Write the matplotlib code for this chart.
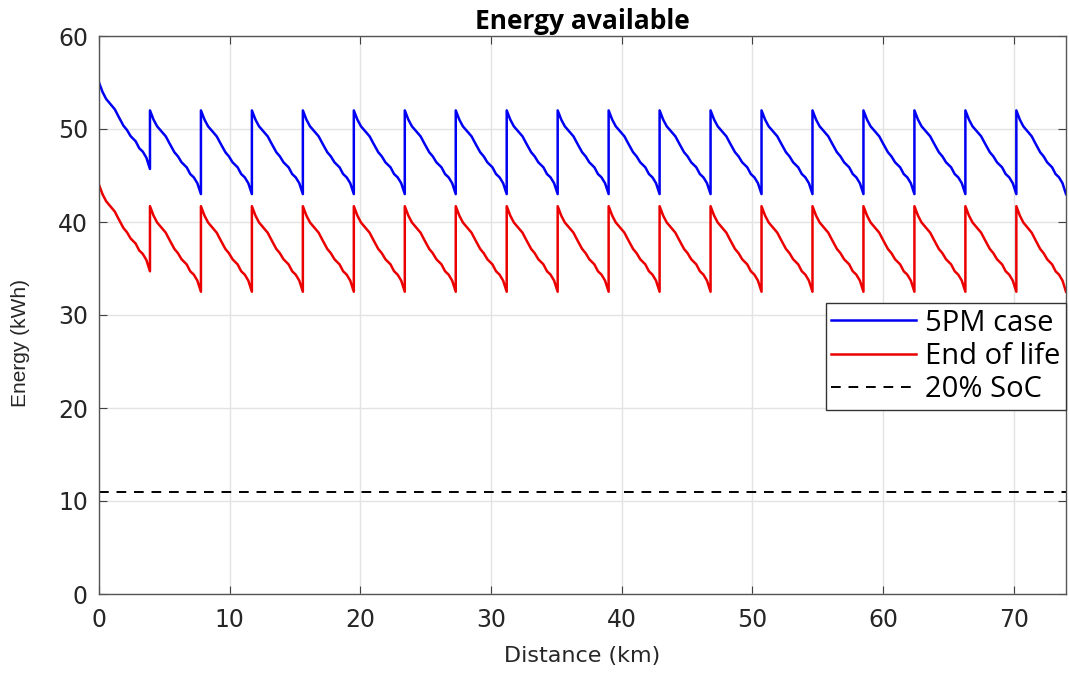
import numpy as np
import matplotlib.pyplot as plt

# jump (recharge) positions along the route, km
jump_km = [3.9, 7.8, 11.7, 15.6, 19.5, 23.4, 27.3, 31.2, 35.1, 39.0,
           42.9, 46.8, 50.7, 54.6, 58.5, 62.4, 66.3, 70.2]
end_km = 74.0

# energy at segment start / end (kWh)
blue_start = [55.0] + [52.0] * 18
blue_end = [45.7] + [43.0] * 18
red_start = [44.0] + [41.7] * 18
red_end = [34.7] + [32.5] * 18

# shape of one discharge segment
# (fraction of segment length, fraction of energy drop)
seg_x = [0.0, 0.07, 0.14, 0.24, 0.31, 0.38, 0.48, 0.55, 0.62, 0.72, 0.79, 0.86, 0.93, 1.0]
seg_y = [0.0, 0.11, 0.19, 0.26, 0.31, 0.39, 0.50, 0.55, 0.62, 0.68, 0.76, 0.80, 0.87, 1.0]

soc20 = 11.0

def build(starts, ends):
    bounds = [0.0] + jump_km + [end_km]
    xs, ys = [], []
    for i in range(len(starts)):
        a, b = bounds[i], bounds[i + 1]
        for fx, fy in zip(seg_x, seg_y):
            xs.append(a + fx * (b - a))
            ys.append(starts[i] - fy * (starts[i] - ends[i]))
    return np.array(xs), np.array(ys)

bx, by = build(blue_start, blue_end)
rx, ry = build(red_start, red_end)

fig = plt.figure(figsize=(10.69, 6.73), dpi=100)
ax = fig.add_axes([99 / 1069, 1 - 594 / 673, 967 / 1069, 558 / 673])

ax.plot(bx, by, color=(0, 0, 0.95), lw=1.8, label='5PM case')
ax.plot(rx, ry, color=(0.92, 0, 0), lw=1.8, label='End of life')
ax.axhline(soc20, color='black', lw=1.4, ls=(0, (5, 4)), label='20% SoC')

ax.set_xlim(0, 74)
ax.set_ylim(0, 60)
ax.set_xticks(np.arange(0, 71, 10))
ax.set_yticks(np.arange(0, 61, 10))
ax.grid(True, color='#e3e3e3', lw=1.0)
ax.set_axisbelow(True)
ax.tick_params(direction='in', top=True, right=True, length=6,
               color='#404040', labelsize=17, labelcolor='#262626')
ax.tick_params(axis='x', pad=10)
ax.tick_params(axis='y', pad=8)
for s in ax.spines.values():
    s.set_color('#555555')
    s.set_linewidth(1.0)

ax.set_title('Energy available', fontsize=19, fontweight='bold',
             family=['Open Sans', 'DejaVu Sans'], pad=5)
ax.set_xlabel('Distance (km)', fontsize=16, color='#262626', labelpad=10)
ax.set_ylabel('Energy (kWh)', fontsize=15, color='#262626',
              family=['Liberation Sans', 'DejaVu Sans'])
ax.yaxis.set_label_coords(-0.071, 0.45)

leg = ax.legend(loc='upper right', bbox_to_anchor=(1.0, 0.522),
                prop={'family': ['Open Sans', 'DejaVu Sans'], 'size': 21},
                frameon=True, fancybox=False, framealpha=1, edgecolor='#333333',
                handlelength=2.9, handletextpad=0.3, borderpad=0.2,
                labelspacing=0.15, borderaxespad=0)
leg.get_frame().set_linewidth(1.0)

fig.savefig('out.png', dpi=100)
